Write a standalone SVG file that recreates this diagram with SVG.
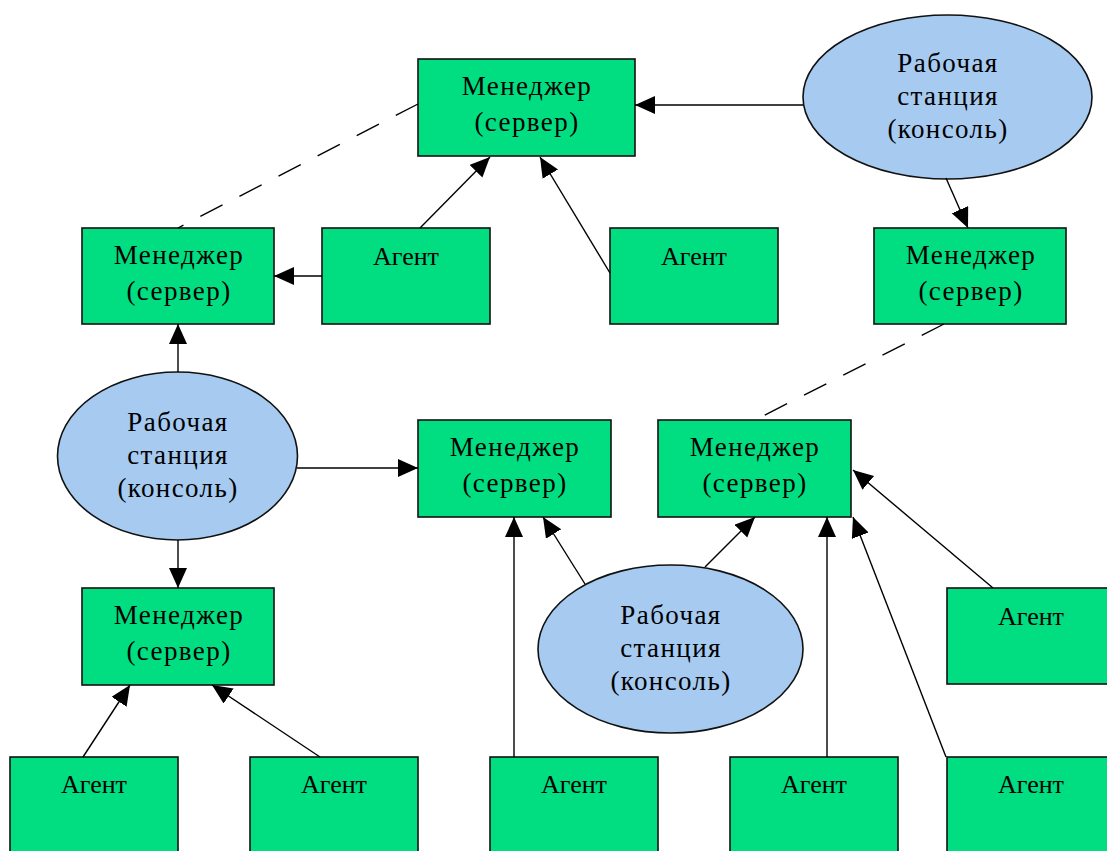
<svg xmlns="http://www.w3.org/2000/svg" width="1107" height="851" viewBox="0 0 1107 851">
  <style>
    .box { fill: #00DE81; stroke: #111; stroke-width: 1.6; }
    .ws { fill: #A6CAF0; stroke: #111; stroke-width: 1.6; }
    .lbl { font-family: "Liberation Serif", "Times New Roman", serif; font-size: 27px; fill: #000; text-anchor: middle; letter-spacing: 1.4px; }
    .ag { font-size: 26px; letter-spacing: 0; }
    .edge { stroke: #000; stroke-width: 1.4; fill: none; }
    .arr { marker-end: url(#head); }
    .dash { stroke-dasharray: 25 19; }
  </style>
  <defs>
    <marker id="head" markerUnits="userSpaceOnUse" markerWidth="22" markerHeight="20" refX="20" refY="9" orient="auto">
      <path d="M0,0 L20,9 L0,18 Z" fill="#000"/>
    </marker>
  </defs>

  <!-- managers -->
  <g id="mgr-top">
    <rect class="box" x="418" y="59" width="217" height="97"/>
    <text class="lbl" x="527" y="95">Менеджер</text>
    <text class="lbl" x="527" y="131">(сервер)</text>
  </g>
  <g id="mgr-left">
    <rect class="box" x="82" y="228" width="192" height="96"/>
    <text class="lbl" x="179" y="264">Менеджер</text>
    <text class="lbl" x="179" y="300">(сервер)</text>
  </g>
  <g id="mgr-right">
    <rect class="box" x="874" y="228" width="192" height="96"/>
    <text class="lbl" x="971" y="264">Менеджер</text>
    <text class="lbl" x="971" y="300">(сервер)</text>
  </g>
  <g id="mgr-mid">
    <rect class="box" x="418" y="420" width="193" height="97"/>
    <text class="lbl" x="515" y="456">Менеджер</text>
    <text class="lbl" x="515" y="492">(сервер)</text>
  </g>
  <g id="mgr-east">
    <rect class="box" x="658" y="420" width="193" height="97"/>
    <text class="lbl" x="755" y="456">Менеджер</text>
    <text class="lbl" x="755" y="492">(сервер)</text>
  </g>
  <g id="mgr-low">
    <rect class="box" x="82" y="588" width="192" height="97"/>
    <text class="lbl" x="179" y="624">Менеджер</text>
    <text class="lbl" x="179" y="660">(сервер)</text>
  </g>

  <!-- workstations -->
  <g id="ws-top">
    <ellipse class="ws" cx="947.5" cy="97" rx="144.5" ry="82"/>
    <text class="lbl" x="948" y="72">Рабочая</text>
    <text class="lbl" x="948" y="105">станция</text>
    <text class="lbl" x="948" y="138">(консоль)</text>
  </g>
  <g id="ws-left">
    <ellipse class="ws" cx="177.5" cy="456" rx="120" ry="84"/>
    <text class="lbl" x="178" y="431">Рабочая</text>
    <text class="lbl" x="178" y="464">станция</text>
    <text class="lbl" x="178" y="497">(консоль)</text>
  </g>
  <g id="ws-mid">
    <ellipse class="ws" cx="670.5" cy="649" rx="132.5" ry="84"/>
    <text class="lbl" x="671" y="624">Рабочая</text>
    <text class="lbl" x="671" y="657">станция</text>
    <text class="lbl" x="671" y="690">(консоль)</text>
  </g>

  <!-- agents -->
  <g id="agent-1">
    <rect class="box" x="322" y="228" width="168" height="96"/>
    <text class="lbl ag" x="406" y="265">Агент</text>
  </g>
  <g id="agent-2">
    <rect class="box" x="610" y="228" width="168" height="96"/>
    <text class="lbl ag" x="694" y="265">Агент</text>
  </g>
  <g id="agent-3">
    <rect class="box" x="947" y="588" width="170" height="96"/>
    <text class="lbl ag" x="1031" y="625">Агент</text>
  </g>
  <g id="agent-4">
    <rect class="box" x="10" y="757" width="168" height="110"/>
    <text class="lbl ag" x="94" y="793">Агент</text>
  </g>
  <g id="agent-5">
    <rect class="box" x="250" y="757" width="168" height="110"/>
    <text class="lbl ag" x="334" y="793">Агент</text>
  </g>
  <g id="agent-6">
    <rect class="box" x="490" y="757" width="168" height="110"/>
    <text class="lbl ag" x="574" y="793">Агент</text>
  </g>
  <g id="agent-7">
    <rect class="box" x="730" y="757" width="168" height="110"/>
    <text class="lbl ag" x="814" y="793">Агент</text>
  </g>
  <g id="agent-8">
    <rect class="box" x="947" y="757" width="170" height="110"/>
    <text class="lbl ag" x="1031" y="793">Агент</text>
  </g>

  <!-- connectors -->
  <g id="connectors">
    <line class="edge arr" x1="803" y1="105" x2="635" y2="105"/>
    <line class="edge arr" x1="946" y1="178" x2="968" y2="228"/>
    <line class="edge arr" x1="420" y1="228" x2="490" y2="157"/>
    <line class="edge arr" x1="610" y1="273" x2="540" y2="157"/>
    <line class="edge dash" x1="418" y1="104" x2="178" y2="228"/>
    <line class="edge arr" x1="322" y1="276" x2="274" y2="276"/>
    <line class="edge arr" x1="178" y1="372" x2="178" y2="324"/>
    <line class="edge arr" x1="297" y1="468" x2="418" y2="468"/>
    <line class="edge arr" x1="178" y1="540" x2="178" y2="588"/>
    <line class="edge dash" x1="944" y1="324" x2="755" y2="420"/>
    <line class="edge arr" x1="514" y1="757" x2="514" y2="517"/>
    <line class="edge arr" x1="585" y1="584" x2="543" y2="517"/>
    <line class="edge arr" x1="705" y1="567" x2="755" y2="517"/>
    <line class="edge arr" x1="827" y1="757" x2="827" y2="517"/>
    <line class="edge arr" x1="993" y1="588" x2="853" y2="470"/>
    <line class="edge arr" x1="946" y1="757" x2="853" y2="517"/>
    <line class="edge arr" x1="83" y1="757" x2="130" y2="685"/>
    <line class="edge arr" x1="320" y1="757" x2="212" y2="685"/>
  </g>
</svg>
